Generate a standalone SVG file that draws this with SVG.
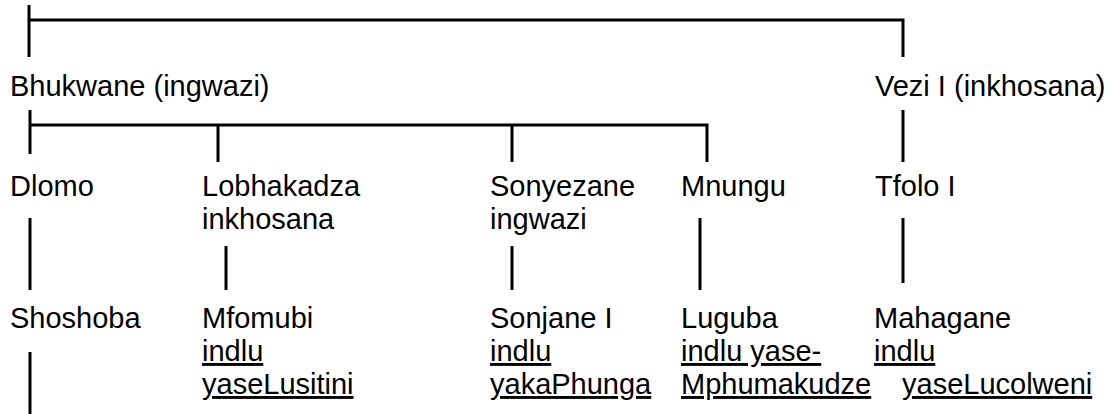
<svg xmlns="http://www.w3.org/2000/svg" width="1115" height="414" viewBox="0 0 1115 414">
<style>
text{font-family:"Liberation Sans",Arial,sans-serif;font-size:29px;fill:#000}
.u{text-decoration:underline}
.c{stroke:#000;stroke-width:3;fill:none}
</style>
<rect width="1115" height="414" fill="#fff"/>
<g id="connectors">
<path class="c" d="M29 5V57M29 20H903V57"/>
<path class="c" d="M30 110V154M30 125H707V162M218 125V162M512 125V162"/>
<path class="c" d="M903 110V162"/>
<path class="c" d="M30 218V290M226 246V290M512 246V290M700 218V290M903 218V283"/>
<path class="c" d="M30 352V414"/>
</g>
<g id="n-bhukwane"><text x="10" y="96">Bhukwane (ingwazi)</text></g>
<g id="n-vezi"><text x="875" y="96">Vezi I (inkhosana)</text></g>
<g id="n-dlomo"><text x="10" y="196">Dlomo</text></g>
<g id="n-lobhakadza"><text x="202" y="196">Lobhakadza</text><text x="202" y="229">inkhosana</text></g>
<g id="n-sonyezane"><text x="490" y="196">Sonyezane</text><text x="490" y="229">ingwazi</text></g>
<g id="n-mnungu"><text x="681" y="196">Mnungu</text></g>
<g id="n-tfolo"><text x="875" y="196">Tfolo I</text></g>
<g id="n-shoshoba"><text x="10" y="328">Shoshoba</text></g>
<g id="n-mfomubi"><text x="202" y="328">Mfomubi</text><text class="u" x="202" y="361">indlu</text><text class="u" x="202" y="394">yaseLusitini</text></g>
<g id="n-sonjane"><text x="490" y="328">Sonjane I</text><text class="u" x="490" y="361">indlu</text><text class="u" x="490" y="394">yakaPhunga</text></g>
<g id="n-luguba"><text x="681" y="328">Luguba</text><text class="u" x="681" y="361">indlu yase-</text><text class="u" x="681" y="394">Mphumakudze</text></g>
<g id="n-mahagane"><text x="874" y="328">Mahagane</text><text class="u" x="874" y="361">indlu</text><text class="u" x="902" y="394">yaseLucolweni</text></g>
</svg>
